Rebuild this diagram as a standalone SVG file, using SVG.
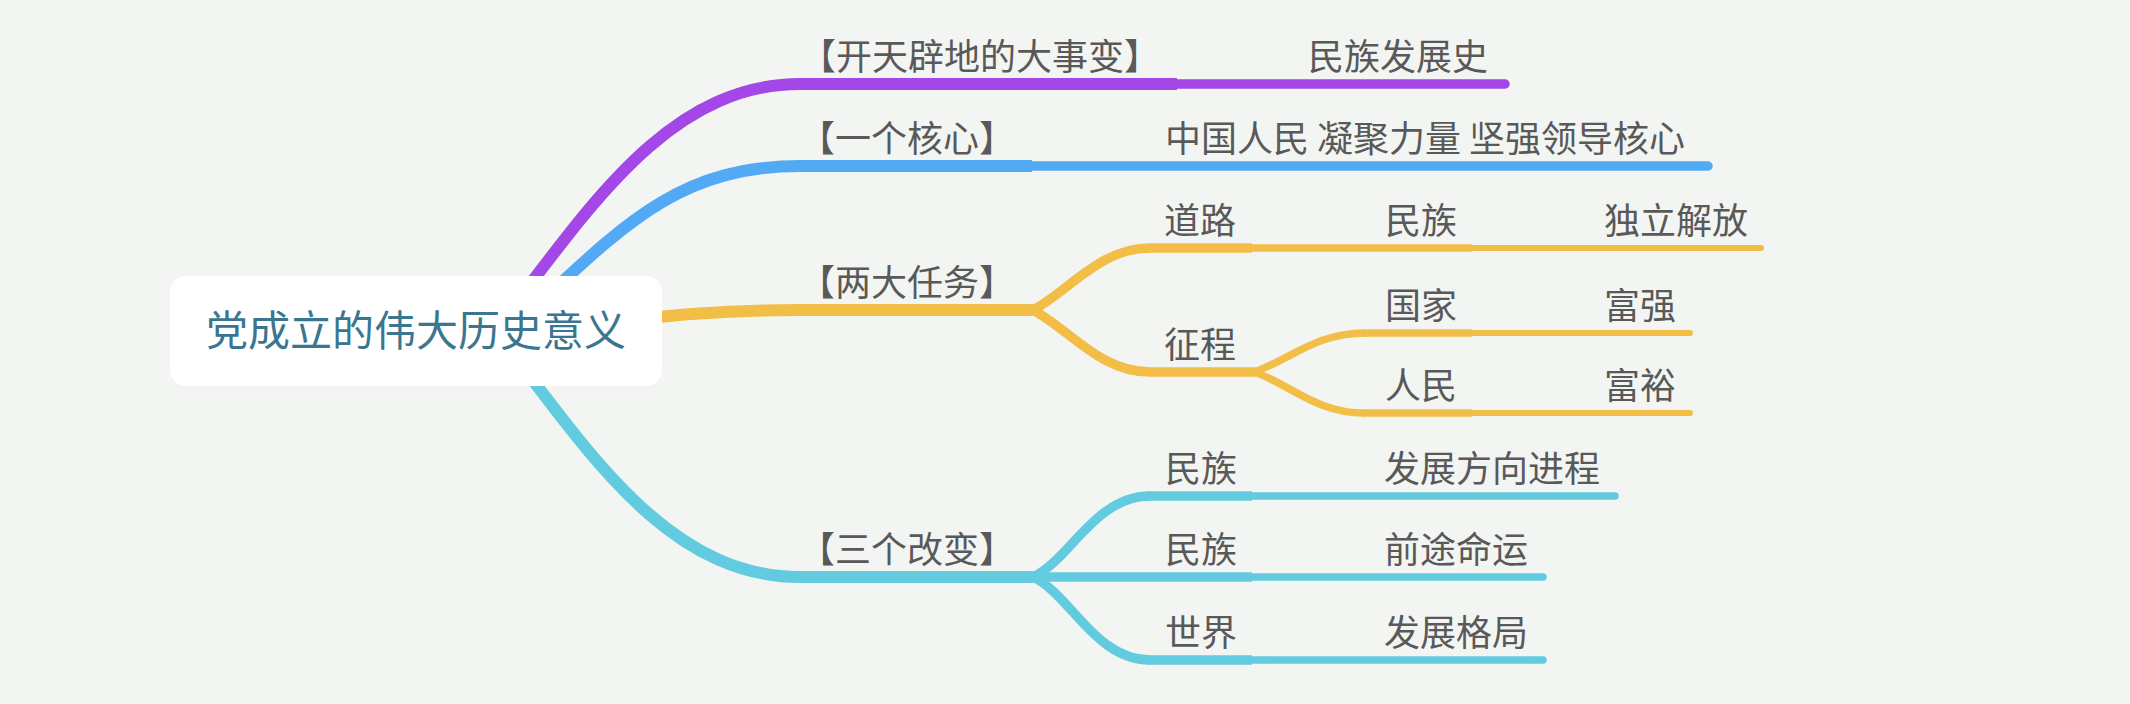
<svg xmlns="http://www.w3.org/2000/svg" width="2130" height="704" viewBox="0 0 2130 704">
<style>
.t { font-family: "Noto Sans CJK SC", "Noto Sans", sans-serif; font-size: 36px; fill: #595959; text-anchor: middle; }
.rt { font-family: "Noto Sans CJK SC", "Noto Sans", sans-serif; font-size: 42px; fill: #3b7691; text-anchor: middle; }
.c { fill: none; stroke-linecap: butt; }
.e { stroke-linecap: round; }
.pu { stroke: #a347e6; }
.bl { stroke: #52aaf5; }
.ye { stroke: #f3be47; }
.cy { stroke: #62cbdf; }
.w1 { stroke-width: 12; }
.w2 { stroke-width: 9.5; }
.w3 { stroke-width: 7.5; }
.w4 { stroke-width: 6; }
</style>
<rect width="2130" height="704" fill="#f3f5f2"/>
<g id="connectors">
  <path class="c pu w1" d="M495 330 C585 215 665 84 800 84 L1177 84"/>
  <path class="c bl w1" d="M510 330 C615 235 670 166 800 166 L1032 166"/>
  <path class="c ye w1" d="M500 331 C600 328 660 310 800 310 L1033 310"/>
  <path class="c cy w1" d="M495 331 C585 446 665 577 800 577 L1033 577"/>
  <path class="c ye w2" d="M1033 310 C1070 290 1100 248 1150 248"/>
  <path class="c ye w2" d="M1033 310 C1070 330 1100 372 1150 372"/>
  <path class="c ye w3" d="M1254 372 C1290 360 1315 333 1365 333"/>
  <path class="c ye w3" d="M1254 372 C1290 384 1315 413 1365 413"/>
  <path class="c cy w2" d="M1033 577 C1070 560 1095 496 1150 496"/>
  <path class="c cy w2" d="M1033 577 C1070 594 1095 660 1150 660"/>
</g>
<g id="root">
  <rect x="170" y="276" width="492" height="110" rx="16" fill="#ffffff"/>
  <text class="rt" x="416" y="346">党成立的伟大历史意义</text>
</g>
<g id="n-kaitian">
  <text class="t" x="980" y="70">【开天辟地的大事变】</text>
</g>
<g id="n-minzufazhanshi">
  <path class="c pu w2 e" d="M1177 84 L1505 84"/>
  <text class="t" x="1398" y="70">民族发展史</text>
</g>
<g id="n-yigehexin">
  <text class="t" x="907" y="152">【一个核心】</text>
</g>
<g id="n-hexin-detail">
  <path class="c bl w2 e" d="M1032 166 L1708 166"/>
  <text class="t" x="1425" y="152">中国人民 凝聚力量 坚强领导核心</text>
</g>
<g id="n-liangda">
  <text class="t" x="907" y="296">【两大任务】</text>
</g>
<g id="n-daolu">
  <path class="c ye w2" d="M1148 248 L1252 248"/>
  <text class="t" x="1200" y="234">道路</text>
</g>
<g id="n-daolu-minzu">
  <path class="c ye w3" d="M1252 248 L1472 248"/>
  <text class="t" x="1421" y="234">民族</text>
</g>
<g id="n-duli">
  <path class="c ye w4 e" d="M1472 248 L1761 248"/>
  <text class="t" x="1676" y="234">独立解放</text>
</g>
<g id="n-zhengcheng">
  <path class="c ye w2" d="M1148 372 L1256 372"/>
  <text class="t" x="1200" y="358">征程</text>
</g>
<g id="n-guojia">
  <path class="c ye w3" d="M1363 333 L1472 333"/>
  <text class="t" x="1421" y="319">国家</text>
</g>
<g id="n-fuqiang">
  <path class="c ye w4 e" d="M1472 333 L1690 333"/>
  <text class="t" x="1640" y="319">富强</text>
</g>
<g id="n-renmin">
  <path class="c ye w3" d="M1363 413 L1472 413"/>
  <text class="t" x="1421" y="399">人民</text>
</g>
<g id="n-fuyu">
  <path class="c ye w4 e" d="M1472 413 L1690 413"/>
  <text class="t" x="1640" y="399">富裕</text>
</g>
<g id="n-sange">
  <text class="t" x="907" y="563">【三个改变】</text>
</g>
<g id="n-minzu1">
  <path class="c cy w2" d="M1148 496 L1252 496"/>
  <text class="t" x="1201" y="482">民族</text>
</g>
<g id="n-fazhanfangxiang">
  <path class="c cy w3 e" d="M1252 496 L1615 496"/>
  <text class="t" x="1492" y="482">发展方向进程</text>
</g>
<g id="n-minzu2">
  <path class="c cy w2" d="M1033 577 L1252 577"/>
  <text class="t" x="1201" y="563">民族</text>
</g>
<g id="n-qiantu">
  <path class="c cy w3 e" d="M1252 577 L1543 577"/>
  <text class="t" x="1456" y="563">前途命运</text>
</g>
<g id="n-shijie">
  <path class="c cy w2" d="M1148 660 L1252 660"/>
  <text class="t" x="1201" y="646">世界</text>
</g>
<g id="n-fazhangeju">
  <path class="c cy w3 e" d="M1252 660 L1543 660"/>
  <text class="t" x="1456" y="646">发展格局</text>
</g>
</svg>
